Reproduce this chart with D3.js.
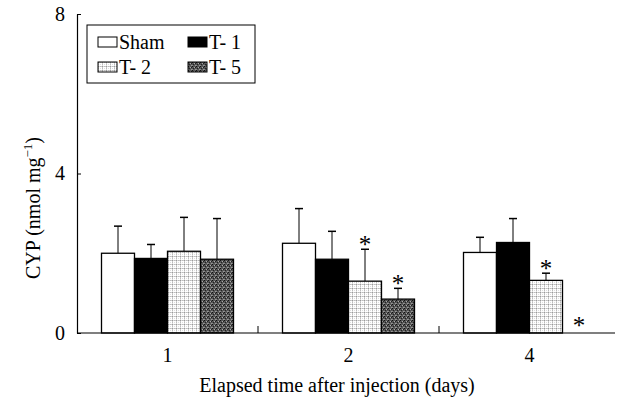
<!DOCTYPE html>
<html>
<head>
<meta charset="utf-8">
<script src="https://cdn.jsdelivr.net/npm/d3@7"></script>
<style>
  body { margin: 0; background: #fff; }
  text { font-family: "Liberation Serif", "DejaVu Serif", serif; fill: #000; }
</style>
</head>
<body>
<script>
var categories = ["1", "2", "4"];
var seriesNames = ["Sham", "T- 1", "T- 2", "T- 5"];
var values = {
  "Sham": [2.0, 2.25, 2.02],
  "T- 1": [1.87, 1.85, 2.27],
  "T- 2": [2.05, 1.3, 1.32],
  "T- 5": [1.85, 0.85, 0]
};
var errors = {
  "Sham": [0.68, 0.87, 0.38],
  "T- 1": [0.35, 0.7, 0.6],
  "T- 2": [0.85, 0.8, 0.18],
  "T- 5": [1.02, 0.27, 0]
};
var significant = {
  "Sham": [false, false, false],
  "T- 1": [false, false, false],
  "T- 2": [false, true, true],
  "T- 5": [false, true, true]
};
var yTicks = [0, 4, 8];

var w = 618, h = 405;
var plotL = 77, plotR = 620, plotT = 14, plotB = 333;

var svg = d3.select("body").append("svg")
  .attr("width", w)
  .attr("height", h);

// fill patterns
var defs = svg.append("defs");
var p2 = defs.append("pattern").attr("id", "t2").attr("patternUnits", "userSpaceOnUse")
  .attr("width", 4).attr("height", 4);
p2.append("rect").attr("width", 4).attr("height", 4).attr("fill", "#fff");
[[0, 0, "#999"], [2, 0, "#bbb"], [0, 2, "#bbb"], [1, 0, "#ddd"], [0, 1, "#ccc"], [3, 0, "#ccc"], [0, 3, "#ddd"], [2, 2, "#e0e0e0"]]
  .forEach(function(p) {
    p2.append("rect").attr("x", p[0]).attr("y", p[1]).attr("width", 1).attr("height", 1).attr("fill", p[2]);
  });

var p5 = defs.append("pattern").attr("id", "t5").attr("patternUnits", "userSpaceOnUse")
  .attr("width", 4).attr("height", 4);
p5.append("rect").attr("width", 4).attr("height", 4).attr("fill", "#555");
[[0, 0, "#111"], [2, 1, "#aaa"], [1, 2, "#222"], [3, 3, "#999"], [3, 1, "#222"], [0, 3, "#888"]]
  .forEach(function(p) {
    p5.append("rect").attr("x", p[0]).attr("y", p[1]).attr("width", 1).attr("height", 1).attr("fill", p[2]);
  });

var fills = { "Sham": "#fff", "T- 1": "#000", "T- 2": "url(#t2)", "T- 5": "url(#t5)" };

var x0 = d3.scaleBand().domain(categories).range([plotL, plotR]).padding(0);
var groupW = 132;
var x1 = d3.scaleBand().domain(seriesNames)
  .range([(x0.bandwidth() - groupW) / 2, (x0.bandwidth() + groupW) / 2]);
var y = d3.scaleLinear().domain([0, 8]).range([plotB, plotT]);

// bars
var bars = [];
seriesNames.forEach(function(s) {
  categories.forEach(function(c, i) {
    bars.push({ s: s, c: c, v: values[s][i], e: errors[s][i], sig: significant[s][i] });
  });
});

var drawn = bars.filter(function(d) { return d.v > 0; });

function cx(d) { return x0(d.c) + x1(d.s) + x1.bandwidth() / 2; }

// error bars (behind bars)
svg.selectAll("line.err")
  .data(drawn)
  .enter()
  .append("line")
  .attr("class", "err")
  .attr("x1", cx)
  .attr("x2", cx)
  .attr("y1", function(d) { return y(d.v); })
  .attr("y2", function(d) { return y(d.v + d.e); })
  .attr("stroke", "#000")
  .attr("stroke-width", 1);

svg.selectAll("line.cap")
  .data(drawn)
  .enter()
  .append("line")
  .attr("class", "cap")
  .attr("x1", function(d) { return cx(d) - 4; })
  .attr("x2", function(d) { return cx(d) + 4; })
  .attr("y1", function(d) { return y(d.v + d.e); })
  .attr("y2", function(d) { return y(d.v + d.e); })
  .attr("stroke", "#000")
  .attr("stroke-width", 1.5);

svg.selectAll("rect.bar")
  .data(drawn)
  .enter()
  .append("rect")
  .attr("class", "bar")
  .attr("x", function(d) { return x0(d.c) + x1(d.s); })
  .attr("y", function(d) { return y(d.v); })
  .attr("width", x1.bandwidth())
  .attr("height", function(d) { return y(0) - y(d.v); })
  .attr("fill", function(d) { return fills[d.s]; })
  .attr("stroke", "#000")
  .attr("stroke-width", 1.3);

// significance marks
svg.selectAll("text.sig")
  .data(bars.filter(function(d) { return d.sig; }))
  .enter()
  .append("text")
  .attr("class", "sig")
  .attr("x", cx)
  .attr("y", function(d) { return y(d.v + d.e) + (d.v > 0 ? 4 : 1); })
  .attr("text-anchor", "middle")
  .attr("font-size", "25px")
  .text("*");

// y axis
var yAxis = d3.axisLeft(y).tickValues(yTicks).tickSizeInner(-4).tickSizeOuter(0).tickPadding(12);
var gy = svg.append("g").attr("transform", "translate(" + plotL + ",0)").call(yAxis);
gy.select(".domain").attr("stroke", "#000").attr("stroke-width", 1.2);
gy.selectAll("text").attr("font-size", "20px").attr("font-family", "Liberation Serif");

// x axis
var gx = svg.append("g").attr("transform", "translate(0," + plotB + ")");
gx.append("line").attr("x1", plotL).attr("x2", 615).attr("y1", 0).attr("y2", 0)
  .attr("stroke", "#000").attr("stroke-width", 1.2);
gx.selectAll("line.sep")
  .data(categories.slice(0, 2))
  .enter()
  .append("line")
  .attr("class", "sep")
  .attr("x1", function(c) { return x0(c) + x0.step(); })
  .attr("x2", function(c) { return x0(c) + x0.step(); })
  .attr("y1", 0).attr("y2", -7)
  .attr("stroke", "#000");
gx.selectAll("text.cat")
  .data(categories)
  .enter()
  .append("text")
  .attr("class", "cat")
  .attr("x", function(c) { return x0(c) + x0.bandwidth() / 2; })
  .attr("y", 29)
  .attr("text-anchor", "middle")
  .attr("font-size", "20px")
  .text(function(c) { return c; });

// axis titles
svg.append("text")
  .attr("x", 337).attr("y", 392)
  .attr("text-anchor", "middle")
  .attr("font-size", "20px")
  .text("Elapsed time after injection (days)");

var yl = svg.append("text")
  .attr("transform", "translate(40,208) rotate(-90)")
  .attr("text-anchor", "middle")
  .attr("font-size", "20px");
yl.append("tspan").text("CYP (nmol mg");
yl.append("tspan").attr("font-size", "13px").attr("dy", -8).text("−1");
yl.append("tspan").attr("dy", 8).text(")");

// legend
var lg = svg.append("g");
lg.append("rect").attr("x", 87).attr("y", 25).attr("width", 168).attr("height", 58)
  .attr("fill", "#fff").attr("stroke", "#000").attr("stroke-width", 1);
var items = lg.selectAll("g.item")
  .data(seriesNames)
  .enter()
  .append("g")
  .attr("class", "item")
  .attr("transform", function(d, i) {
    return "translate(" + (i % 2 === 0 ? 98 : 188) + "," + (i < 2 ? 37 : 62) + ")";
  });
items.append("rect")
  .attr("width", 19).attr("height", 10)
  .attr("fill", function(d) { return fills[d]; })
  .attr("stroke", "#000").attr("stroke-width", 1);
items.append("text")
  .attr("x", 21).attr("y", 12)
  .attr("font-size", "20px")
  .text(function(d) { return d; });
</script>
</body>
</html>
